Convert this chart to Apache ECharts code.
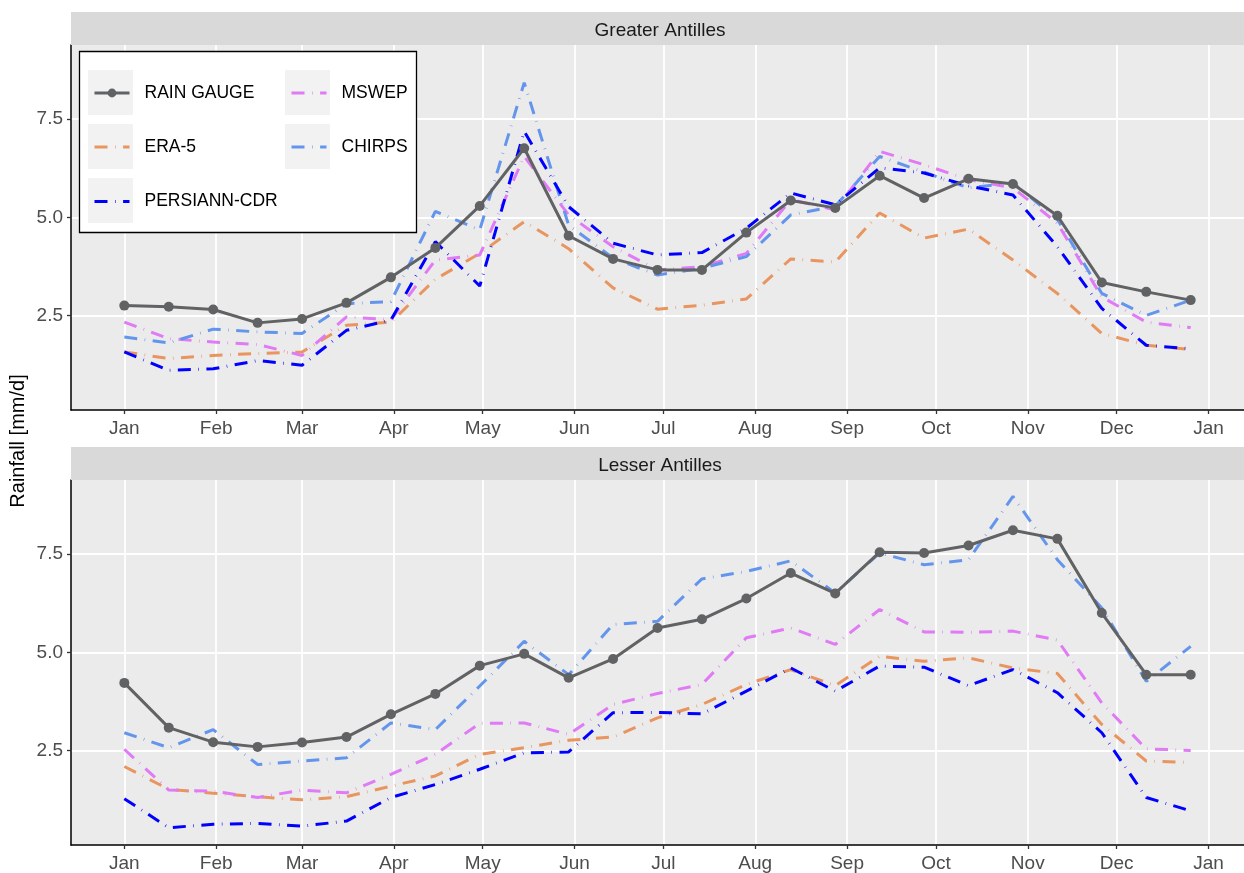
<!DOCTYPE html>
<html>
<head>
<meta charset="utf-8">
<script src="https://cdn.jsdelivr.net/npm/echarts@6/dist/echarts.min.js"></script>
<style>
  html, body { margin: 0; padding: 0; background: #ffffff; }
  #chart { width: 1244px; height: 873px; }
</style>
</head>
<body>
<div id="chart"></div>
<script>
// Day of year (leap year, Jan 1 = 0) of each 15-day climatology step
const days = [0, 15, 30, 45, 60, 75, 90, 105, 120, 135, 150, 165, 180,
              195, 210, 225, 240, 255, 270, 285, 300, 315, 330, 345, 360];

// Month boundaries used for ticks and labels
const monthTickDays = [0, 31, 60, 91, 121, 152, 182, 213, 244, 274, 305, 335, 366];
const monthTickLabels = ['Jan', 'Feb', 'Mar', 'Apr', 'May', 'Jun', 'Jul',
                         'Aug', 'Sep', 'Oct', 'Nov', 'Dec', 'Jan'];
const yTicks = [2.5, 5.0, 7.5];

const panelTitles = ['Greater Antilles', 'Lesser Antilles'];
const productNames = ['RAIN GAUGE', 'ERA-5', 'PERSIANN-CDR', 'MSWEP', 'CHIRPS'];

// Greater Antilles rainfall [mm/d]
const gaGauge    = [2.75, 2.72, 2.65, 2.31, 2.41, 2.82, 3.47, 4.22, 5.29, 6.76, 4.53, 3.94, 3.66,
                    3.66, 4.61, 5.43, 5.24, 6.06, 5.49, 5.98, 5.85, 5.04, 3.34, 3.10, 2.89];
const gaEra5     = [1.57, 1.40, 1.48, 1.53, 1.57, 2.25, 2.33, 3.42, 4.08, 4.89, 4.20, 3.20, 2.66,
                    2.76, 2.92, 3.94, 3.86, 5.11, 4.47, 4.70, 3.91, 3.06, 2.04, 1.74, 1.63];
const gaPersiann = [1.57, 1.10, 1.14, 1.35, 1.23, 2.12, 2.38, 4.38, 3.25, 7.19, 5.27, 4.34, 4.04,
                    4.10, 4.72, 5.62, 5.32, 6.26, 6.13, 5.80, 5.57, 4.25, 2.68, 1.74, 1.65];
const gaMswep    = [2.33, 1.91, 1.82, 1.76, 1.48, 2.46, 2.39, 3.91, 4.04, 6.55, 5.06, 4.25, 3.66,
                    3.74, 4.08, 5.45, 5.19, 6.68, 6.34, 5.96, 5.75, 4.85, 2.97, 2.33, 2.19];
const gaChirps   = [1.95, 1.80, 2.15, 2.08, 2.04, 2.80, 2.85, 5.15, 4.68, 8.43, 4.80, 3.96, 3.53,
                    3.70, 4.00, 5.06, 5.28, 6.55, 6.15, 5.75, 5.88, 4.95, 3.06, 2.50, 2.89];

// Lesser Antilles rainfall [mm/d]
const laGauge    = [4.22, 3.08, 2.71, 2.59, 2.70, 2.84, 3.42, 3.94, 4.66, 4.96, 4.35, 4.83, 5.62,
                    5.84, 6.37, 7.02, 6.50, 7.55, 7.53, 7.72, 8.11, 7.89, 6.00, 4.43, 4.43];
const laEra5     = [2.09, 1.51, 1.41, 1.32, 1.24, 1.32, 1.59, 1.85, 2.40, 2.57, 2.76, 2.84, 3.33,
                    3.67, 4.18, 4.56, 4.15, 4.90, 4.77, 4.86, 4.60, 4.46, 3.16, 2.23, 2.19];
const laPersiann = [1.27, 0.53, 0.62, 0.64, 0.57, 0.70, 1.30, 1.63, 2.02, 2.44, 2.46, 3.46, 3.47,
                    3.43, 4.01, 4.60, 4.01, 4.65, 4.62, 4.15, 4.56, 3.97, 2.95, 1.30, 0.96];
const laMswep    = [2.53, 1.49, 1.46, 1.30, 1.49, 1.42, 1.89, 2.40, 3.19, 3.20, 2.91, 3.67, 3.95,
                    4.18, 5.37, 5.62, 5.20, 6.09, 5.52, 5.51, 5.54, 5.31, 3.71, 2.54, 2.50];
const laChirps   = [2.95, 2.57, 3.03, 2.14, 2.23, 2.31, 3.20, 3.03, 4.14, 5.28, 4.43, 5.71, 5.79,
                    6.87, 7.06, 7.33, 6.51, 7.53, 7.23, 7.36, 8.97, 7.36, 6.13, 4.26, 5.15];

const panelData = [
  { 'RAIN GAUGE': gaGauge, 'ERA-5': gaEra5, 'PERSIANN-CDR': gaPersiann, 'MSWEP': gaMswep, 'CHIRPS': gaChirps },
  { 'RAIN GAUGE': laGauge, 'ERA-5': laEra5, 'PERSIANN-CDR': laPersiann, 'MSWEP': laMswep, 'CHIRPS': laChirps }
];

const colors = {
  'RAIN GAUGE': '#616264',
  'ERA-5': '#E8955F',
  'PERSIANN-CDR': '#0000FF',
  'MSWEP': '#E07AF5',
  'CHIRPS': '#6495ED'
};

const FONT = "'Liberation Sans', Arial, sans-serif";
// long dash with a faint dot in each gap
const dashPattern = [13, 7.5, 0.6, 7.5];

const GRID_LEFT = 71, GRID_W = 1178, GRID_H = 365;
const gridTops = [45, 480];
const STRIP_H = 33;

// drawing order: gauge on top
const drawOrder = ['ERA-5', 'MSWEP', 'CHIRPS', 'PERSIANN-CDR', 'RAIN GAUGE'];

const grids = [], xAxes = [], yAxes = [], series = [];
gridTops.forEach((top, p) => {
  grids.push({
    left: GRID_LEFT, top: top, width: GRID_W, height: GRID_H,
    show: true, backgroundColor: '#EBEBEB', borderWidth: 0
  });
  xAxes.push({
    type: 'value', gridIndex: p, min: -18, max: 378,
    axisLine: { show: true, onZero: false, lineStyle: { color: '#000', width: 1.5 } },
    axisTick: { show: true, customValues: monthTickDays, length: 4, lineStyle: { color: '#333', width: 1.3 } },
    axisLabel: {
      show: true, customValues: monthTickDays, margin: 9,
      color: '#4D4D4D', fontSize: 19, fontFamily: FONT,
      formatter: v => monthTickLabels[monthTickDays.indexOf(v)]
    },
    splitLine: { show: true, lineStyle: { color: '#FFFFFF', width: 1.8 } }
  });
  yAxes.push({
    type: 'value', gridIndex: p, min: 0.09, max: 9.39,
    axisLine: { show: true, onZero: false, lineStyle: { color: '#000', width: 1.5 } },
    axisTick: { show: true, customValues: yTicks, length: 4, lineStyle: { color: '#333', width: 1.3 } },
    axisLabel: {
      show: true, customValues: yTicks, margin: 8,
      color: '#4D4D4D', fontSize: 19, fontFamily: FONT,
      formatter: v => v.toFixed(1)
    },
    splitLine: { show: true, lineStyle: { color: '#FFFFFF', width: 1.8 } }
  });
  drawOrder.forEach(name => {
    const vals = panelData[p][name];
    const isGauge = name === 'RAIN GAUGE';
    series.push({
      type: 'line', name: name, xAxisIndex: p, yAxisIndex: p,
      data: days.map((d, k) => [d, vals[k]]),
      symbol: isGauge ? 'circle' : 'none',
      symbolSize: 10,
      showSymbol: isGauge,
      itemStyle: { color: colors[name] },
      lineStyle: isGauge
        ? { color: colors[name], width: 3 }
        : { color: colors[name], width: 3, type: dashPattern, cap: 'butt' },
      z: isGauge ? 4 : 3,
      animation: false,
      silent: true
    });
  });
});

// legend keys laid out in two columns
const legendSlots = [
  { name: 'RAIN GAUGE', left: 93, cy: 93 },
  { name: 'ERA-5', left: 93, cy: 147 },
  { name: 'PERSIANN-CDR', left: 93, cy: 201.5 },
  { name: 'MSWEP', left: 290, cy: 93 },
  { name: 'CHIRPS', left: 290, cy: 147 }
];
const legends = legendSlots.map(s => ({
  show: true,
  data: [s.name === 'RAIN GAUGE' ? { name: s.name } : { name: s.name, itemStyle: { opacity: 0 } }],
  left: s.left, top: s.cy - 9,
  orient: 'vertical', padding: 0,
  itemWidth: 35, itemHeight: 11,
  selectedMode: false,
  lineStyle: { width: 'inherit' },
  textStyle: { fontSize: 17.5, color: '#000', fontFamily: FONT, lineHeight: 18, padding: [0, 0, 0, 10] },
  z: 20
}));

const graphics = [];
gridTops.forEach((top, p) => {
  graphics.push({
    type: 'rect', z: 1,
    shape: { x: GRID_LEFT, y: top - STRIP_H, width: GRID_W, height: STRIP_H },
    style: { fill: '#D9D9D9' }
  });
  graphics.push({
    type: 'text', z: 2,
    x: GRID_LEFT + GRID_W / 2, y: top - STRIP_H / 2 + 2,
    style: { text: panelTitles[p], fill: '#1A1A1A', font: '19px ' + FONT, align: 'center', verticalAlign: 'middle' }
  });
});
graphics.push({
  type: 'text', z: 2, x: 18, y: 441, rotation: Math.PI / 2,
  style: { text: 'Rainfall [mm/d]', fill: '#000', font: '20px ' + FONT, align: 'center', verticalAlign: 'middle' }
});
graphics.push({
  type: 'rect', z: 10,
  shape: { x: 79.5, y: 51.5, width: 337, height: 181 },
  style: { fill: '#FFFFFF', stroke: '#000', lineWidth: 1.3 }
});
[[88, 70], [88, 124], [88, 178], [285, 70], [285, 124]].forEach(([x, y]) => {
  graphics.push({
    type: 'rect', z: 11,
    shape: { x: x, y: y, width: 45, height: 45 },
    style: { fill: '#F2F2F2' }
  });
});

const chart = echarts.init(document.getElementById('chart'), null, { renderer: 'canvas' });
chart.setOption({
  animation: false,
  backgroundColor: '#FFFFFF',
  grid: grids,
  xAxis: xAxes,
  yAxis: yAxes,
  legend: legends,
  series: series,
  graphic: { elements: graphics }
});
</script>
</body>
</html>
